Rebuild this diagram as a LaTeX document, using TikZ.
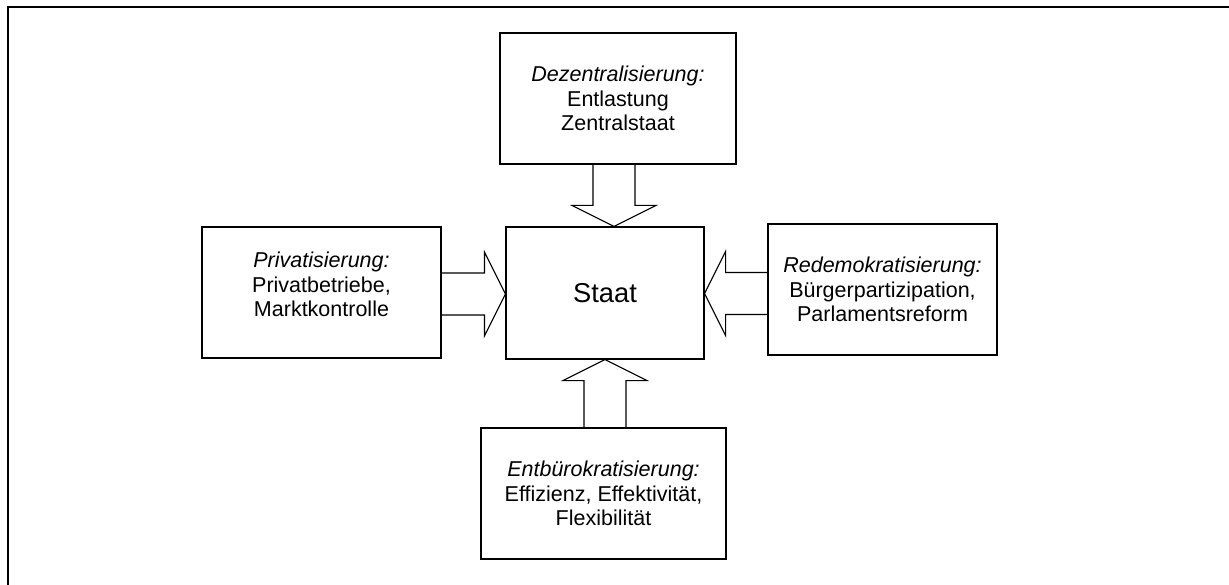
\documentclass[tikz,border=0pt]{standalone}
\usepackage{fontspec}
\setmainfont{Liberation Sans}
\usetikzlibrary{calc}
\newcommand\blockarrow[2]{%
  \coordinate (bah) at ($(#2)!21pt!(#1)$);
  \draw[arrowline] ($(#1)!21pt!90:(#2)$) -- ($(bah)!21pt!90:(#2)$) -- ($(bah)!42pt!90:(#2)$) -- (#2)
    -- ($(bah)!42pt!-90:(#2)$) -- ($(bah)!21pt!-90:(#2)$) -- ($(#1)!21pt!-90:(#2)$);}
\begin{document}
\begin{tikzpicture}[x=1pt,y=-1pt,
  box/.style={draw=black, line width=1.1pt, inner sep=0pt, align=center,
    font=\fontsize{21.5}{24.5}\selectfont, minimum height=131pt},
  arrowline/.style={draw=black, line width=1.1pt, line join=miter},
  frame/.style={line width=2.4pt, black}]
\useasboundingbox (0,0) rectangle (1229,585);
\draw[frame] (7.8,585) -- (7.8,7) -- (1229,7);

\node[box, minimum width=236pt] (top) at (618,98.5)
  {\textit{Dezentralisierung:}\\Entlastung\\Zentralstaat};
\node[box, minimum width=198pt, minimum height=132pt, font=\fontsize{27.3}{30}\selectfont] (staat) at (605,293) {Staat};
\node[box, minimum width=239pt] (priv) at (321.5,292.5)
  {\textit{Privatisierung:}\\Privatbetriebe,\\Marktkontrolle\rule[-16pt]{0pt}{1pt}};
\node[box, minimum width=229pt] (redem) at (882.5,289.5)
  {\textit{Redemokratisierung:}\\Bürgerpartizipation,\\Parlamentsreform};
\node[box, minimum width=245pt] (entb) at (603.5,493.5)
  {\textit{Entbürokratisierung:}\\Effizienz, Effektivität,\\Flexibilität};

\coordinate (ta) at ($(top.south)+(-4,0)$);
\blockarrow{ta}{ta |- staat.north}
\coordinate (la) at ($(priv.east)+(0,1.5)$);
\blockarrow{la}{la -| staat.west}
\coordinate (ra) at ($(redem.west)+(0,4)$);
\blockarrow{ra}{ra -| staat.east}
\coordinate (ba) at ($(entb.north)+(1.5,0)$);
\blockarrow{ba}{ba |- staat.south}
\end{tikzpicture}
\end{document}
